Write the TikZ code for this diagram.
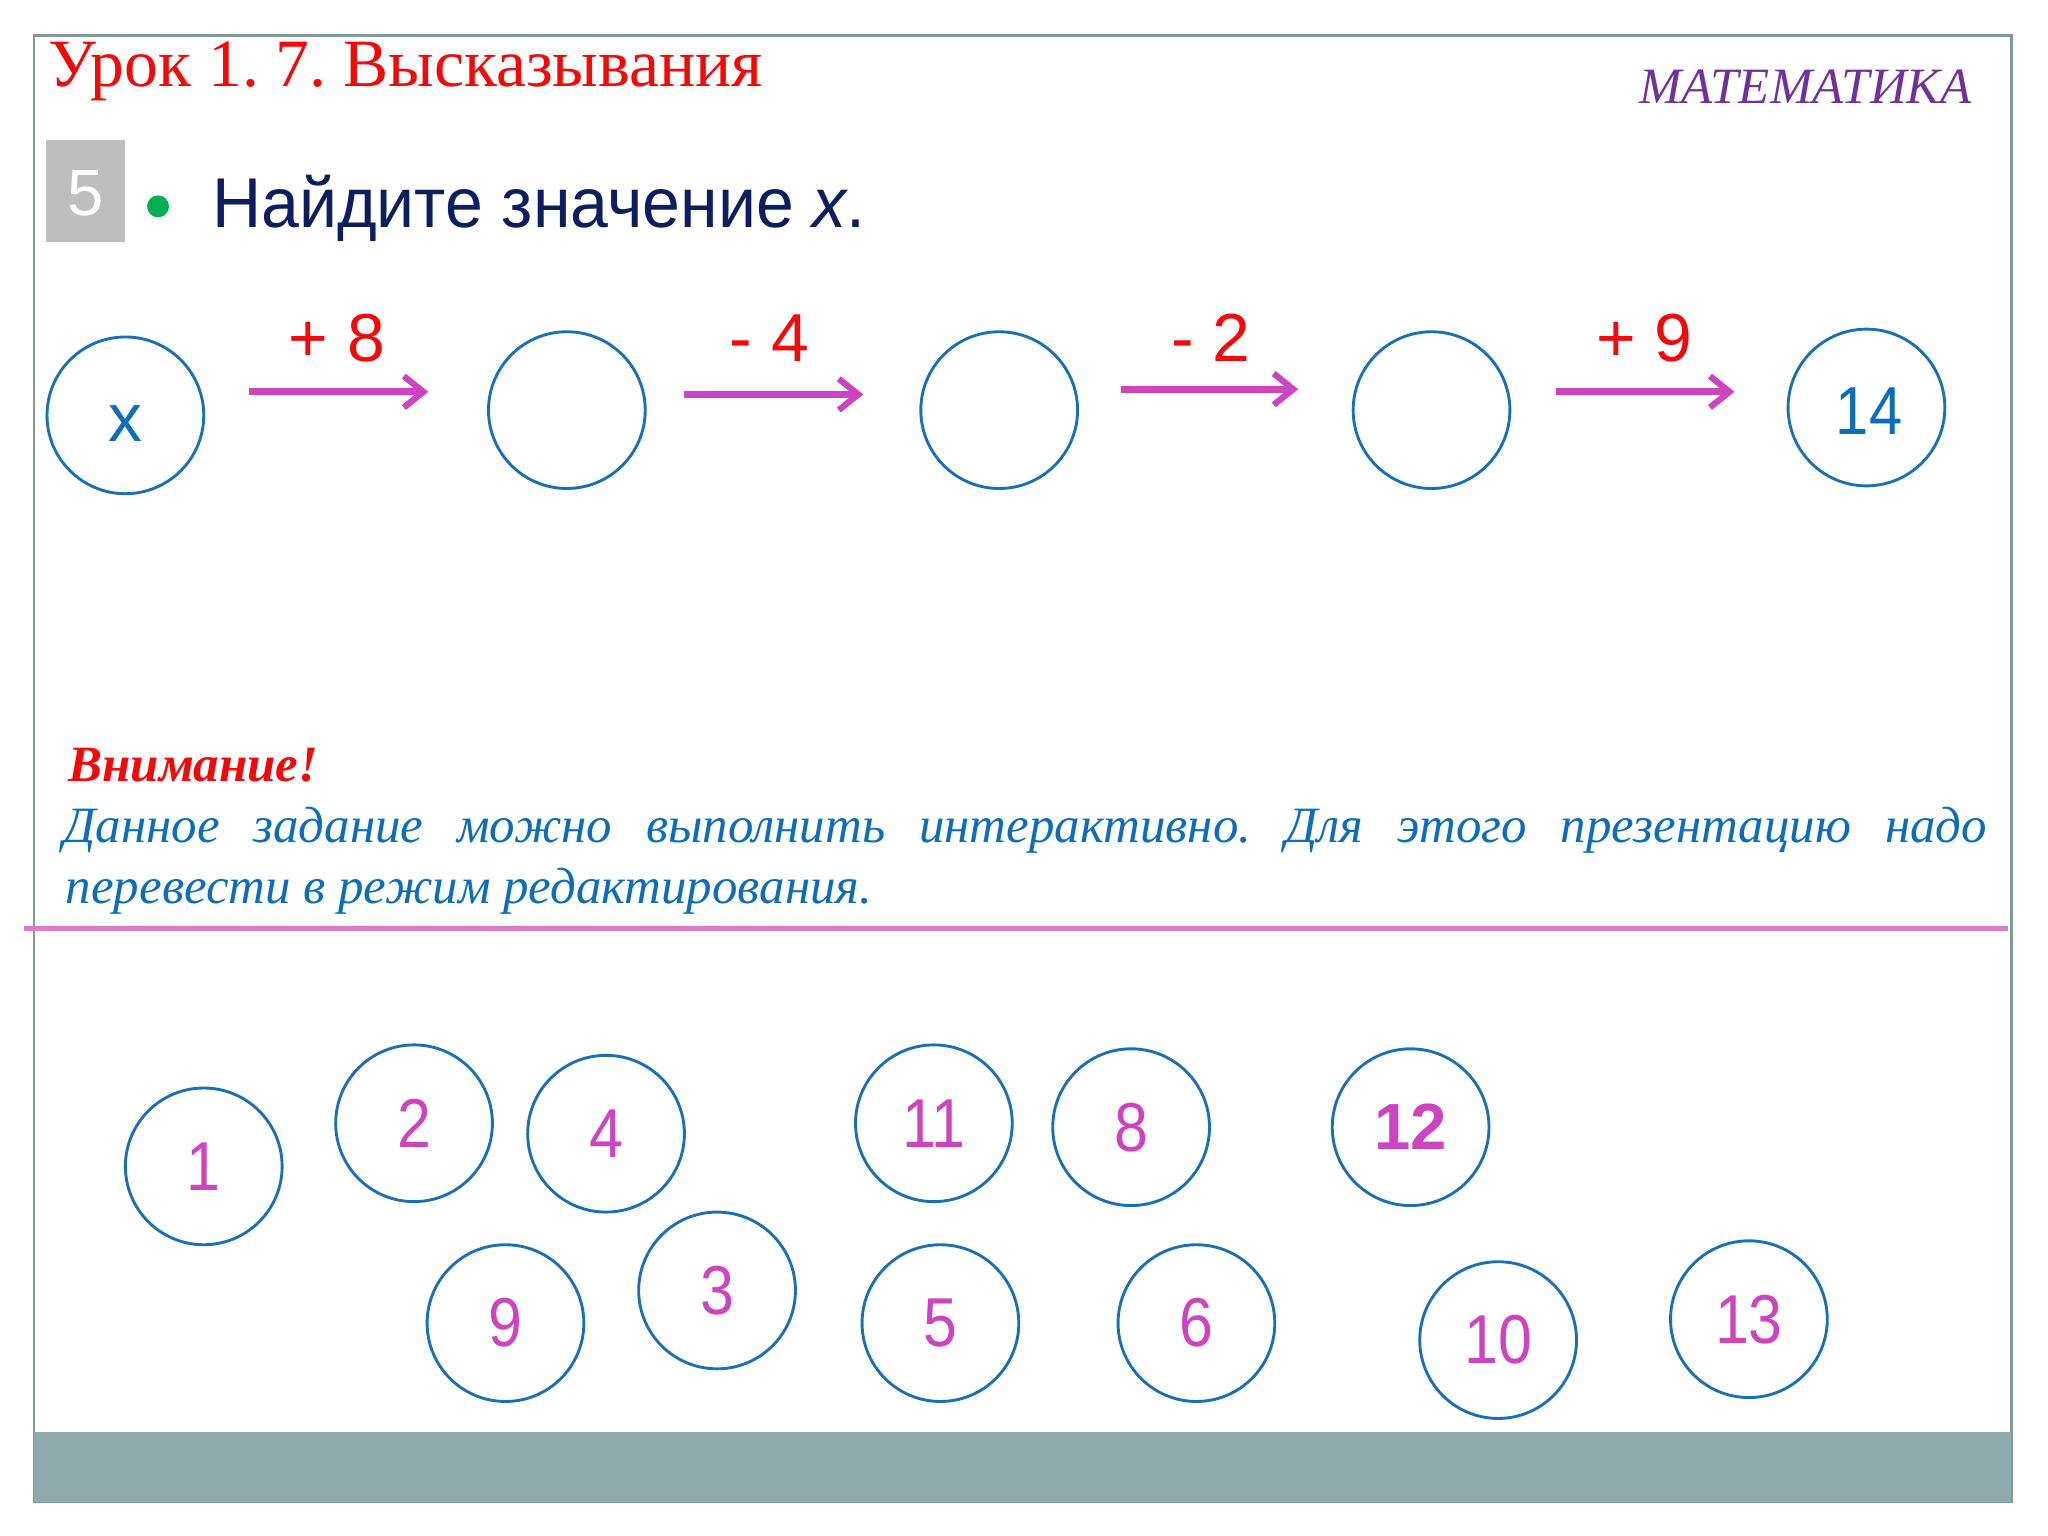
\documentclass[tikz,border=0pt]{standalone}
\usepackage{fontspec}
\setmainfont{Liberation Serif}
\setsansfont{Liberation Sans}
\newfontfamily\tasksans[FakeStretch=0.965]{Liberation Sans}
\newfontfamily\numsans[FakeStretch=0.88]{Liberation Sans}
\usetikzlibrary{arrows.meta}
\definecolor{framec}{HTML}{7D9B98}
\definecolor{barc}{HTML}{8FAAAD}
\definecolor{titlered}{HTML}{F00A0A}
\definecolor{purp}{HTML}{7030A0}
\definecolor{navy}{HTML}{0C1E60}
\definecolor{bulletg}{HTML}{00B050}
\definecolor{sqgrey}{HTML}{BFBEBF}
\definecolor{cblue}{HTML}{1A6FB6}
\definecolor{tblue}{HTML}{0E6DBA}
\definecolor{mag}{HTML}{CC44C0}
\definecolor{magline}{HTML}{DA7BD0}
\begin{document}
\frenchspacing
\begin{tikzpicture}[x=0.5pt,y=-0.5pt,
  ring/.style={circle,draw=cblue,line width=1.1pt,minimum size=60pt,inner sep=0pt},
  topnum/.style={text=tblue,font=\sffamily\fontsize{26}{26}\selectfont},
  botnum/.style={text=mag,font=\numsans\fontsize{26.5}{26.5}\selectfont},
  oparrow/.style={draw=mag,line width=2.8pt,-{Straight Barb[length=7.5pt,width=12pt,line width=2.4pt]}},
  oplabel/.style={text=titlered,font=\sffamily\fontsize{26}{26}\selectfont,anchor=base}]
\useasboundingbox (0,0) rectangle (1568,1176);
\fill[white] (0,0) rectangle (1568,1176);
% frame and bottom bar
\draw[framec,line width=1pt] (26,27) rectangle (1540,1150);
\fill[barc] (26,1096) rectangle (1540,1150);
% title
\node[anchor=base west,inner sep=0pt,text=titlered,font=\fontsize{25.9}{25.9}\selectfont] (title) at (37,66) {Урок 1. 7. Высказывания};
\node[anchor=base east,inner sep=0pt,text=purp,font=\itshape\fontsize{19.5}{19.5}\selectfont] (subj) at (1510,79) {МАТЕМАТИКА};
% task number
\fill[sqgrey] (35,107) rectangle (96,185);
\node[anchor=base,inner sep=0pt,text=white,font=\sffamily\fontsize{25}{25}\selectfont] (num) at (65.5,165) {5};
\fill[bulletg] (121,158) circle (4.2pt);
\node[anchor=base west,inner sep=0pt,text=navy,font=\tasksans\fontsize{27}{27}\selectfont] (task) at (162,174) {Найдите значение \textit{x}.};
% top chain
\node[ring] (c1) at (96,318) {};
\node[ring] (c2) at (434,314) {};
\node[ring] (c3) at (765,314) {};
\node[ring] (c4) at (1096,314) {};
\node[ring] (c5) at (1429,312) {};
\node[anchor=base,inner sep=0pt,topnum] (xl) at (96,338) {x};
\node[anchor=base,inner sep=0pt,topnum,font=\numsans\fontsize{26}{26}\selectfont] (fl) at (1431,333) {14};
\coordinate (a1s) at (191,300); \coordinate (a1e) at (328,300);
\coordinate (a2s) at (524,302); \coordinate (a2e) at (661,302);
\coordinate (a3s) at (858,298); \coordinate (a3e) at (994,298);
\coordinate (a4s) at (1191,300); \coordinate (a4e) at (1328,300);
\draw[oparrow] (a1s) -- (a1e);
\draw[oparrow] (a2s) -- (a2e);
\draw[oparrow] (a3s) -- (a3e);
\draw[oparrow] (a4s) -- (a4e);
\node[oplabel,inner sep=0pt] (l1) at (258,277) {+ 8};
\node[oplabel,inner sep=0pt] (l2) at (589,277) {- 4};
\node[oplabel,inner sep=0pt] (l3) at (927,277) {- 2};
\node[oplabel,inner sep=0pt] (l4) at (1259,277) {+ 9};
% attention text
\node[anchor=base west,inner sep=0pt,text=titlered,font=\bfseries\itshape\fontsize{19.5}{19.5}\selectfont] (warn) at (52,598) {Внимание!};
\node[anchor=base west,inner sep=0pt,text=tblue,font=\itshape\fontsize{19.5}{19.5}\selectfont] (line1) at (48,645) {\makebox[736.5pt][s]{Данное задание можно выполнить интерактивно. Для этого презентацию надо}};
\node[anchor=base west,inner sep=0pt,text=tblue,font=\itshape\fontsize{19.5}{19.5}\selectfont] (line2) at (50,692) {перевести в режим редактирования.};
\draw[magline,line width=2pt] (18,711) -- (1537,711);
% answer circles
\foreach \n/\px/\py in {1/156/893, 2/317/860, 4/464/868, 11/715/860, 8/866/863, 9/387/1013, 3/549/988, 5/720/1013, 6/916/1013, 10/1147/1026, 13/1339/1010}{
  \node[ring] (b\n) at (\px,\py) {};
  \node[botnum,anchor=center,inner sep=0pt] (t\n) at (\px,\py) {\n};
}
\node[ring] (b12) at (1080,863) {};
\node[botnum,anchor=center,inner sep=0pt,font=\sffamily\bfseries\fontsize{25}{25}\selectfont] (t12) at (1080,863) {12};
\end{tikzpicture}
\end{document}
